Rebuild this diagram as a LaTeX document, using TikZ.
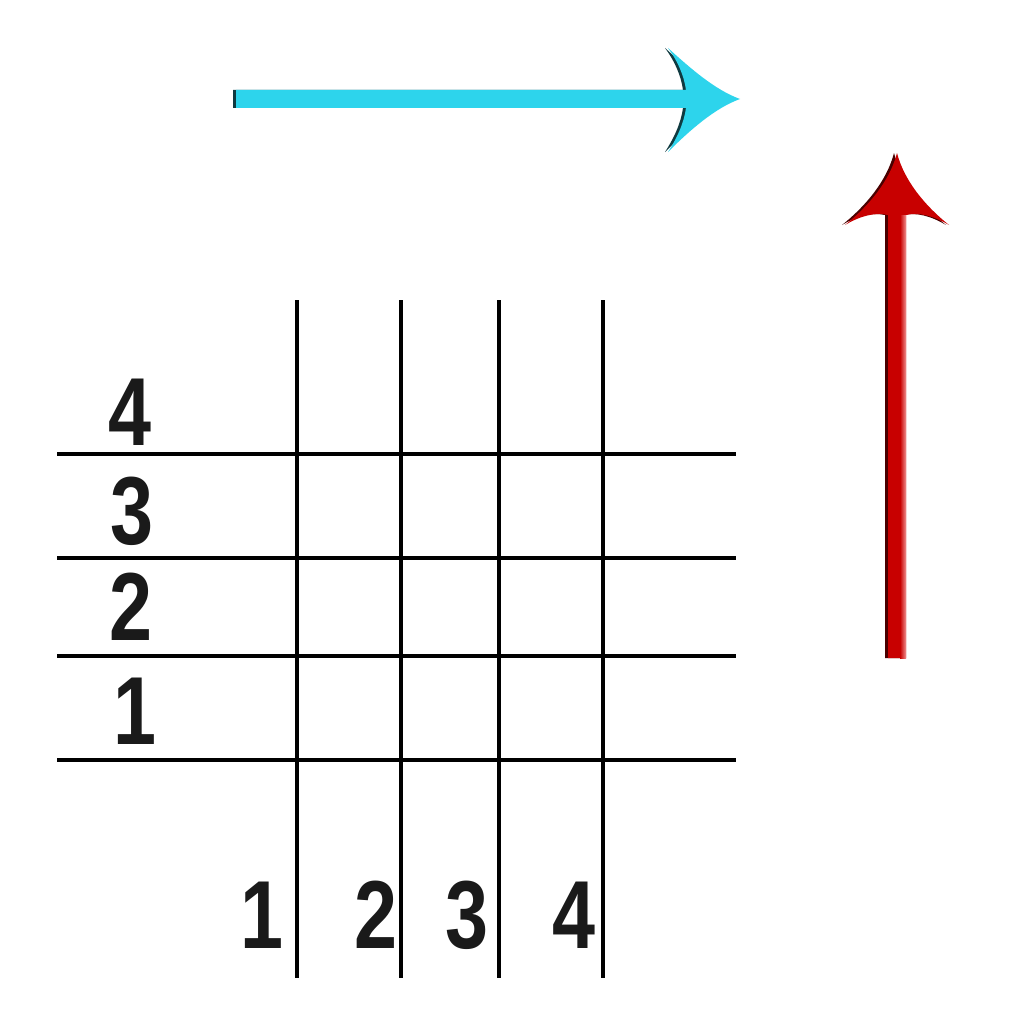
\documentclass[tikz,border=0pt]{standalone}
\usepackage{fontspec}
\setmainfont{Liberation Sans}
\usepackage{graphicx}
\definecolor{cyanA}{HTML}{2DD4EC}
\definecolor{cyanD}{HTML}{0F3A40}
\definecolor{redA}{HTML}{C80000}
\definecolor{redD}{HTML}{4A0000}
\definecolor{redL}{HTML}{F09090}
\definecolor{digit}{HTML}{1A1A1A}
\newcommand{\cnd}[1]{\scalebox{0.8}[1]{#1}}
\begin{document}
\begin{tikzpicture}[x=0.02cm,y=-0.02cm,
  gridline/.style={line width=2.6pt,black},
  num/.style={font=\bfseries\fontsize{55}{55}\selectfont,text=digit,inner sep=0pt}]
\useasboundingbox[fill=white] (0,0) rectangle (1024,1024);
% grid coordinates
\foreach \n/\x in {a/297,b/401,c/499,d/603}{
  \coordinate (v\n t) at (\x,300);
  \coordinate (v\n b) at (\x,978);
  \draw[gridline] (v\n t) -- (v\n b);
}
\foreach \n/\y in {a/454,b/558,c/656,d/760}{
  \coordinate (h\n l) at (57,\y);
  \coordinate (h\n r) at (736,\y);
  \draw[gridline] (h\n l) -- (h\n r);
}
% left labels
\node[num] (l4) at (130,412) {\cnd{4}};
\node[num] (l3) at (132,511) {\cnd{3}};
\node[num] (l2) at (131,607) {\cnd{2}};
\node[num] (l1) at (135,711) {\cnd{1}};
% bottom labels
\node[num] (b1) at (262,915) {\cnd{1}};
\node[num] (b2) at (376,915) {\cnd{2}};
\node[num] (b3) at (467,915) {\cnd{3}};
\node[num] (b4) at (574,915) {\cnd{4}};
% cyan arrow
\def\cyanpath{(236,90) -- (686,90) .. controls (684,75) and (677,60) .. (668,48) .. controls (690,68) and (715,90) .. (740,99) .. controls (715,108) and (690,130) .. (668,152) .. controls (677,138) and (684,123) .. (686,108) -- (236,108) -- cycle}
\fill[cyanD] [xshift=-0.06cm] \cyanpath;
\fill[cyanA] \cyanpath;
% red arrow
\def\redpath{(888,658) -- (888,215) .. controls (875,212) and (860,216) .. (845,225) .. controls (870,205) and (890,180) .. (897,153) .. controls (904,180) and (924,205) .. (949,225) .. controls (934,216) and (919,212) .. (906,215) -- (906,658) -- cycle}
\fill[redD] [xshift=-0.06cm] \redpath;
\fill[redA] \redpath;
\shade[left color=redA, right color=redL] (900,215) rectangle (906,658);
\end{tikzpicture}
\end{document}
